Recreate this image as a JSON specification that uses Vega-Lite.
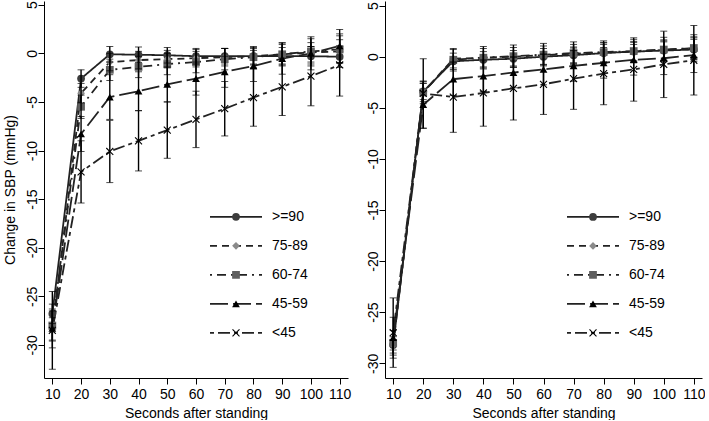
{
  "$schema": "https://vega.github.io/schema/vega-lite/v6.json",
  "autosize": {"type": "pad"},
  "padding": {"left": 3, "top": 0, "right": 0, "bottom": 0},
  "background": "white",
  "config": {
    "view": {"stroke": null},
    "font": "Liberation Sans",
    "axis": {
      "grid": false,
      "domainColor": "#000000",
      "tickColor": "#000000",
      "labelColor": "#000000",
      "titleColor": "#000000",
      "labelFont": "Liberation Sans",
      "titleFont": "Liberation Sans",
      "labelFontSize": 14,
      "titleFontSize": 14,
      "titleFontWeight": "normal",
      "tickSize": 6,
      "domainWidth": 1,
      "tickWidth": 1,
      "labelOverlap": false
    },
    "legend": {"padding": 0, "labelFont": "Liberation Sans"}
  },
  "datasets": {
    "left": [
      {"t": 10, "g": ">=90", "m": -26.8, "e": 1.0},
      {"t": 20, "g": ">=90", "m": -2.6, "e": 0.9},
      {"t": 30, "g": ">=90", "m": -0.1, "e": 0.8},
      {"t": 40, "g": ">=90", "m": -0.15, "e": 0.8},
      {"t": 50, "g": ">=90", "m": -0.2, "e": 0.8},
      {"t": 60, "g": ">=90", "m": -0.3, "e": 0.8},
      {"t": 70, "g": ">=90", "m": -0.3, "e": 0.8},
      {"t": 80, "g": ">=90", "m": -0.3, "e": 0.8},
      {"t": 90, "g": ">=90", "m": -0.3, "e": 0.9},
      {"t": 100, "g": ">=90", "m": -0.3, "e": 1.0},
      {"t": 110, "g": ">=90", "m": -0.35, "e": 1.1},
      {"t": 10, "g": "75-89", "m": -28.4, "e": 1.2},
      {"t": 20, "g": "75-89", "m": -4.1, "e": 1.0},
      {"t": 30, "g": "75-89", "m": -0.9, "e": 0.9},
      {"t": 40, "g": "75-89", "m": -0.7, "e": 0.9},
      {"t": 50, "g": "75-89", "m": -0.6, "e": 0.9},
      {"t": 60, "g": "75-89", "m": -0.5, "e": 0.9},
      {"t": 70, "g": "75-89", "m": -0.4, "e": 0.9},
      {"t": 80, "g": "75-89", "m": -0.3, "e": 0.9},
      {"t": 90, "g": "75-89", "m": -0.1, "e": 1.0},
      {"t": 100, "g": "75-89", "m": 0.1, "e": 1.0},
      {"t": 110, "g": "75-89", "m": 0.2, "e": 1.2},
      {"t": 10, "g": "60-74", "m": -28.0, "e": 1.5},
      {"t": 20, "g": "60-74", "m": -5.5, "e": 1.2},
      {"t": 30, "g": "60-74", "m": -1.7, "e": 1.1},
      {"t": 40, "g": "60-74", "m": -1.4, "e": 1.1},
      {"t": 50, "g": "60-74", "m": -1.1, "e": 1.1},
      {"t": 60, "g": "60-74", "m": -0.9, "e": 1.1},
      {"t": 70, "g": "60-74", "m": -0.6, "e": 1.1},
      {"t": 80, "g": "60-74", "m": -0.4, "e": 1.1},
      {"t": 90, "g": "60-74", "m": -0.1, "e": 1.2},
      {"t": 100, "g": "60-74", "m": 0.2, "e": 1.3},
      {"t": 110, "g": "60-74", "m": 0.4, "e": 1.4},
      {"t": 10, "g": "45-59", "m": -28.3, "e": 2.0},
      {"t": 20, "g": "45-59", "m": -8.3, "e": 1.8},
      {"t": 30, "g": "45-59", "m": -4.5, "e": 2.3},
      {"t": 40, "g": "45-59", "m": -3.9, "e": 2.0},
      {"t": 50, "g": "45-59", "m": -3.2, "e": 1.8},
      {"t": 60, "g": "45-59", "m": -2.6, "e": 1.7},
      {"t": 70, "g": "45-59", "m": -1.9, "e": 1.6},
      {"t": 80, "g": "45-59", "m": -1.3, "e": 1.6},
      {"t": 90, "g": "45-59", "m": -0.55, "e": 1.6},
      {"t": 100, "g": "45-59", "m": 0.0, "e": 1.7},
      {"t": 110, "g": "45-59", "m": 0.75, "e": 1.7},
      {"t": 10, "g": "<45", "m": -28.5, "e": 4.0},
      {"t": 20, "g": "<45", "m": -12.2, "e": 3.2},
      {"t": 30, "g": "<45", "m": -10.1, "e": 3.2},
      {"t": 40, "g": "<45", "m": -9.0, "e": 3.1},
      {"t": 50, "g": "<45", "m": -7.9, "e": 2.9},
      {"t": 60, "g": "<45", "m": -6.8, "e": 2.9},
      {"t": 70, "g": "<45", "m": -5.7, "e": 2.8},
      {"t": 80, "g": "<45", "m": -4.55, "e": 2.95},
      {"t": 90, "g": "<45", "m": -3.45, "e": 2.95},
      {"t": 100, "g": "<45", "m": -2.35, "e": 3.05},
      {"t": 110, "g": "<45", "m": -1.2, "e": 3.2}
    ],
    "right": [
      {"t": 10, "g": ">=90", "m": -28.2, "e": 0.5},
      {"t": 20, "g": ">=90", "m": -3.4, "e": 0.8},
      {"t": 30, "g": ">=90", "m": -0.45, "e": 0.8},
      {"t": 40, "g": ">=90", "m": -0.3, "e": 0.8},
      {"t": 50, "g": ">=90", "m": -0.2, "e": 0.8},
      {"t": 60, "g": ">=90", "m": 0.0, "e": 0.8},
      {"t": 70, "g": ">=90", "m": 0.15, "e": 0.8},
      {"t": 80, "g": ">=90", "m": 0.35, "e": 0.85},
      {"t": 90, "g": ">=90", "m": 0.5, "e": 0.9},
      {"t": 100, "g": ">=90", "m": 0.6, "e": 0.95},
      {"t": 110, "g": ">=90", "m": 0.7, "e": 1.0},
      {"t": 10, "g": "75-89", "m": -28.2, "e": 0.8},
      {"t": 20, "g": "75-89", "m": -3.5, "e": 0.9},
      {"t": 30, "g": "75-89", "m": -0.2, "e": 0.9},
      {"t": 40, "g": "75-89", "m": -0.1, "e": 0.9},
      {"t": 50, "g": "75-89", "m": 0.0, "e": 0.9},
      {"t": 60, "g": "75-89", "m": 0.15, "e": 0.9},
      {"t": 70, "g": "75-89", "m": 0.3, "e": 0.9},
      {"t": 80, "g": "75-89", "m": 0.4, "e": 0.95},
      {"t": 90, "g": "75-89", "m": 0.5, "e": 1.0},
      {"t": 100, "g": "75-89", "m": 0.65, "e": 1.0},
      {"t": 110, "g": "75-89", "m": 0.85, "e": 1.1},
      {"t": 10, "g": "60-74", "m": -28.0, "e": 1.2},
      {"t": 20, "g": "60-74", "m": -3.5, "e": 1.1},
      {"t": 30, "g": "60-74", "m": -0.3, "e": 1.1},
      {"t": 40, "g": "60-74", "m": -0.1, "e": 1.1},
      {"t": 50, "g": "60-74", "m": 0.05, "e": 1.1},
      {"t": 60, "g": "60-74", "m": 0.2, "e": 1.1},
      {"t": 70, "g": "60-74", "m": 0.35, "e": 1.1},
      {"t": 80, "g": "60-74", "m": 0.45, "e": 1.1},
      {"t": 90, "g": "60-74", "m": 0.55, "e": 1.15},
      {"t": 100, "g": "60-74", "m": 0.7, "e": 1.2},
      {"t": 110, "g": "60-74", "m": 0.85, "e": 1.3},
      {"t": 10, "g": "45-59", "m": -27.5, "e": 2.0},
      {"t": 20, "g": "45-59", "m": -4.7, "e": 2.3},
      {"t": 30, "g": "45-59", "m": -2.2, "e": 1.6},
      {"t": 40, "g": "45-59", "m": -1.9, "e": 1.5},
      {"t": 50, "g": "45-59", "m": -1.55, "e": 1.5},
      {"t": 60, "g": "45-59", "m": -1.25, "e": 1.5},
      {"t": 70, "g": "45-59", "m": -0.9, "e": 1.5},
      {"t": 80, "g": "45-59", "m": -0.6, "e": 1.5},
      {"t": 90, "g": "45-59", "m": -0.3, "e": 1.5},
      {"t": 100, "g": "45-59", "m": -0.15, "e": 1.6},
      {"t": 110, "g": "45-59", "m": 0.15, "e": 1.7},
      {"t": 10, "g": "<45", "m": -27.0, "e": 3.4},
      {"t": 20, "g": "<45", "m": -3.6, "e": 3.4},
      {"t": 30, "g": "<45", "m": -3.95, "e": 3.45},
      {"t": 40, "g": "<45", "m": -3.55, "e": 3.25},
      {"t": 50, "g": "<45", "m": -3.1, "e": 3.1},
      {"t": 60, "g": "<45", "m": -2.7, "e": 2.95},
      {"t": 70, "g": "<45", "m": -2.15, "e": 3.0},
      {"t": 80, "g": "<45", "m": -1.65, "e": 3.05},
      {"t": 90, "g": "<45", "m": -1.25, "e": 3.1},
      {"t": 100, "g": "<45", "m": -0.75, "e": 3.25},
      {"t": 110, "g": "<45", "m": -0.35, "e": 3.4}
    ]
  },
  "spacing": 15,
  "resolve": {
    "scale": {"x": "independent", "y": "independent"},
    "legend": {"shape": "independent", "color": "independent", "strokeDash": "independent"}
  },
  "hconcat": [
    {
      "width": 304,
      "height": 377,
      "data": {"name": "left"},
      "layer": [
        {
          "mark": {"type": "line", "strokeWidth": 1.8, "color": "#222222"},
          "encoding": {
            "x": {"field": "t", "type": "quantitative", "title": "Seconds after standing", "scale": {"domain": [7.1, 112.9], "nice": false, "zero": false},
              "axis": {"values": [10, 20, 30, 40, 50, 60, 70, 80, 90, 100, 110], "labelPadding": 3, "titlePadding": 5, "labelFlush": false, "labelOverlap": false, "labelSeparation": 0}},
            "y": {"field": "m", "type": "quantitative", "title": "Change in SBP (mmHg)", "scale": {"domain": [-33.4, 5.38], "nice": false, "zero": false},
              "axis": {"values": [-30, -25, -20, -15, -10, -5, 0, 5], "labelAngle": -90, "labelAlign": "center", "labelBaseline": "alphabetic", "labelPadding": 2, "titlePadding": 8, "labelExpr": "datum.value + ''", "labelFlush": false, "labelOverlap": false}},
            "strokeDash": {"field": "g", "type": "nominal", "sort": [">=90", "75-89", "60-74", "45-59", "<45"],
              "scale": {"range": [[1, 0], [7, 5], [2, 5, 9, 5], [18, 5], [4, 4, 12, 4]]},
              "legend": {"title": null, "orient": "none", "legendX": 165, "legendY": 201.5, "symbolType": "stroke", "symbolSize": 2704, "symbolStrokeWidth": 1.8, "symbolStrokeColor": "#222222", "labelFontSize": 14, "labelColor": "#000000", "labelOffset": 9, "rowPadding": 0, "clipHeight": 28.6}}
          }
        },
        {
          "mark": {"type": "point", "filled": true, "size": 60, "opacity": 1, "strokeWidth": 0},
          "encoding": {
            "x": {"field": "t", "type": "quantitative", "title": "Seconds after standing",
              "axis": {"values": [10, 20, 30, 40, 50, 60, 70, 80, 90, 100, 110], "labelPadding": 3, "titlePadding": 5, "labelFlush": false, "labelOverlap": false, "labelSeparation": 0}},
            "y": {"field": "m", "type": "quantitative", "title": "Change in SBP (mmHg)",
              "axis": {"values": [-30, -25, -20, -15, -10, -5, 0, 5], "labelAngle": -90, "labelAlign": "center", "labelBaseline": "alphabetic", "labelPadding": 2, "titlePadding": 8, "labelExpr": "datum.value + ''", "labelFlush": false, "labelOverlap": false}},
            "shape": {"field": "g", "type": "nominal",
              "scale": {"domain": [">=90", "75-89", "60-74", "45-59", "<45"], "range": ["circle", "diamond", "square", "triangle-up", "M-1,-0.8L-0.8,-1L0,-0.2L0.8,-1L1,-0.8L0.2,0L1,0.8L0.8,1L0,0.2L-0.8,1L-1,0.8L-0.2,0Z"]},
              "legend": {"title": null, "orient": "none", "legendX": 185, "legendY": 201.5, "symbolSize": 60, "symbolStrokeWidth": 0, "labelFontSize": 14, "labelExpr": "''", "rowPadding": 0, "clipHeight": 28.6}},
            "color": {"field": "g", "type": "nominal",
              "scale": {"domain": [">=90", "75-89", "60-74", "45-59", "<45"], "range": ["#3d3d3d", "#8a8a8a", "#5f5f5f", "#000000", "#000000"]},
              "legend": {"title": null, "orient": "none", "legendX": 185, "legendY": 201.5, "symbolSize": 60, "symbolStrokeWidth": 0, "labelFontSize": 14, "labelExpr": "''", "rowPadding": 0, "clipHeight": 28.6}}
          }
        },
        {
          "mark": {"type": "errorbar", "ticks": {"size": 7, "color": "#000000", "strokeWidth": 1.4}, "rule": {"color": "#000000", "strokeWidth": 1.4}},
          "encoding": {
            "x": {"field": "t", "type": "quantitative", "title": "Seconds after standing",
              "axis": {"values": [10, 20, 30, 40, 50, 60, 70, 80, 90, 100, 110], "labelPadding": 3, "titlePadding": 5, "labelFlush": false, "labelOverlap": false, "labelSeparation": 0}},
            "y": {"field": "m", "type": "quantitative", "title": "Change in SBP (mmHg)",
              "axis": {"values": [-30, -25, -20, -15, -10, -5, 0, 5], "labelAngle": -90, "labelAlign": "center", "labelBaseline": "alphabetic", "labelPadding": 2, "titlePadding": 8, "labelExpr": "datum.value + ''", "labelFlush": false, "labelOverlap": false}},
            "yError": {"field": "e"}
          }
        }
      ]
    },
    {
      "width": 317,
      "height": 377,
      "data": {"name": "right"},
      "layer": [
        {
          "mark": {"type": "line", "strokeWidth": 1.8, "color": "#222222"},
          "encoding": {
            "x": {"field": "t", "type": "quantitative", "title": "Seconds after standing", "scale": {"domain": [7.28, 112.72], "nice": false, "zero": false},
              "axis": {"values": [10, 20, 30, 40, 50, 60, 70, 80, 90, 100, 110], "labelPadding": 3, "titlePadding": 5, "labelFlush": false, "labelOverlap": false, "labelSeparation": 0}},
            "y": {"field": "m", "type": "quantitative", "title": null, "scale": {"domain": [-31.44, 5.45], "nice": false, "zero": false},
              "axis": {"values": [-30, -25, -20, -15, -10, -5, 0, 5], "title": null, "labelAngle": -90, "labelAlign": "center", "labelBaseline": "alphabetic", "labelPadding": 2, "labelExpr": "datum.value + ''", "labelFlush": false, "labelOverlap": false}},
            "strokeDash": {"field": "g", "type": "nominal", "sort": [">=90", "75-89", "60-74", "45-59", "<45"],
              "scale": {"range": [[1, 0], [7, 5], [2, 5, 9, 5], [18, 5], [4, 4, 12, 4]]},
              "legend": {"title": null, "orient": "none", "legendX": 181, "legendY": 201.5, "symbolType": "stroke", "symbolSize": 2704, "symbolStrokeWidth": 1.8, "symbolStrokeColor": "#222222", "labelFontSize": 14, "labelColor": "#000000", "labelOffset": 9, "rowPadding": 0, "clipHeight": 28.9}}
          }
        },
        {
          "mark": {"type": "point", "filled": true, "size": 60, "opacity": 1, "strokeWidth": 0},
          "encoding": {
            "x": {"field": "t", "type": "quantitative", "title": "Seconds after standing",
              "axis": {"values": [10, 20, 30, 40, 50, 60, 70, 80, 90, 100, 110], "labelPadding": 3, "titlePadding": 5, "labelFlush": false, "labelOverlap": false, "labelSeparation": 0}},
            "y": {"field": "m", "type": "quantitative", "title": null,
              "axis": {"values": [-30, -25, -20, -15, -10, -5, 0, 5], "title": null, "labelAngle": -90, "labelAlign": "center", "labelBaseline": "alphabetic", "labelPadding": 2, "labelExpr": "datum.value + ''", "labelFlush": false, "labelOverlap": false}},
            "shape": {"field": "g", "type": "nominal",
              "scale": {"domain": [">=90", "75-89", "60-74", "45-59", "<45"], "range": ["circle", "diamond", "square", "triangle-up", "M-1,-0.8L-0.8,-1L0,-0.2L0.8,-1L1,-0.8L0.2,0L1,0.8L0.8,1L0,0.2L-0.8,1L-1,0.8L-0.2,0Z"]},
              "legend": {"title": null, "orient": "none", "legendX": 201, "legendY": 201.5, "symbolSize": 60, "symbolStrokeWidth": 0, "labelFontSize": 14, "labelExpr": "''", "rowPadding": 0, "clipHeight": 28.9}},
            "color": {"field": "g", "type": "nominal",
              "scale": {"domain": [">=90", "75-89", "60-74", "45-59", "<45"], "range": ["#3d3d3d", "#8a8a8a", "#5f5f5f", "#000000", "#000000"]},
              "legend": {"title": null, "orient": "none", "legendX": 201, "legendY": 201.5, "symbolSize": 60, "symbolStrokeWidth": 0, "labelFontSize": 14, "labelExpr": "''", "rowPadding": 0, "clipHeight": 28.9}}
          }
        },
        {
          "mark": {"type": "errorbar", "ticks": {"size": 7, "color": "#000000", "strokeWidth": 1.4}, "rule": {"color": "#000000", "strokeWidth": 1.4}},
          "encoding": {
            "x": {"field": "t", "type": "quantitative", "title": "Seconds after standing",
              "axis": {"values": [10, 20, 30, 40, 50, 60, 70, 80, 90, 100, 110], "labelPadding": 3, "titlePadding": 5, "labelFlush": false, "labelOverlap": false, "labelSeparation": 0}},
            "y": {"field": "m", "type": "quantitative", "title": null,
              "axis": {"values": [-30, -25, -20, -15, -10, -5, 0, 5], "title": null, "labelAngle": -90, "labelAlign": "center", "labelBaseline": "alphabetic", "labelPadding": 2, "labelExpr": "datum.value + ''", "labelFlush": false, "labelOverlap": false}},
            "yError": {"field": "e"}
          }
        }
      ]
    }
  ]
}
